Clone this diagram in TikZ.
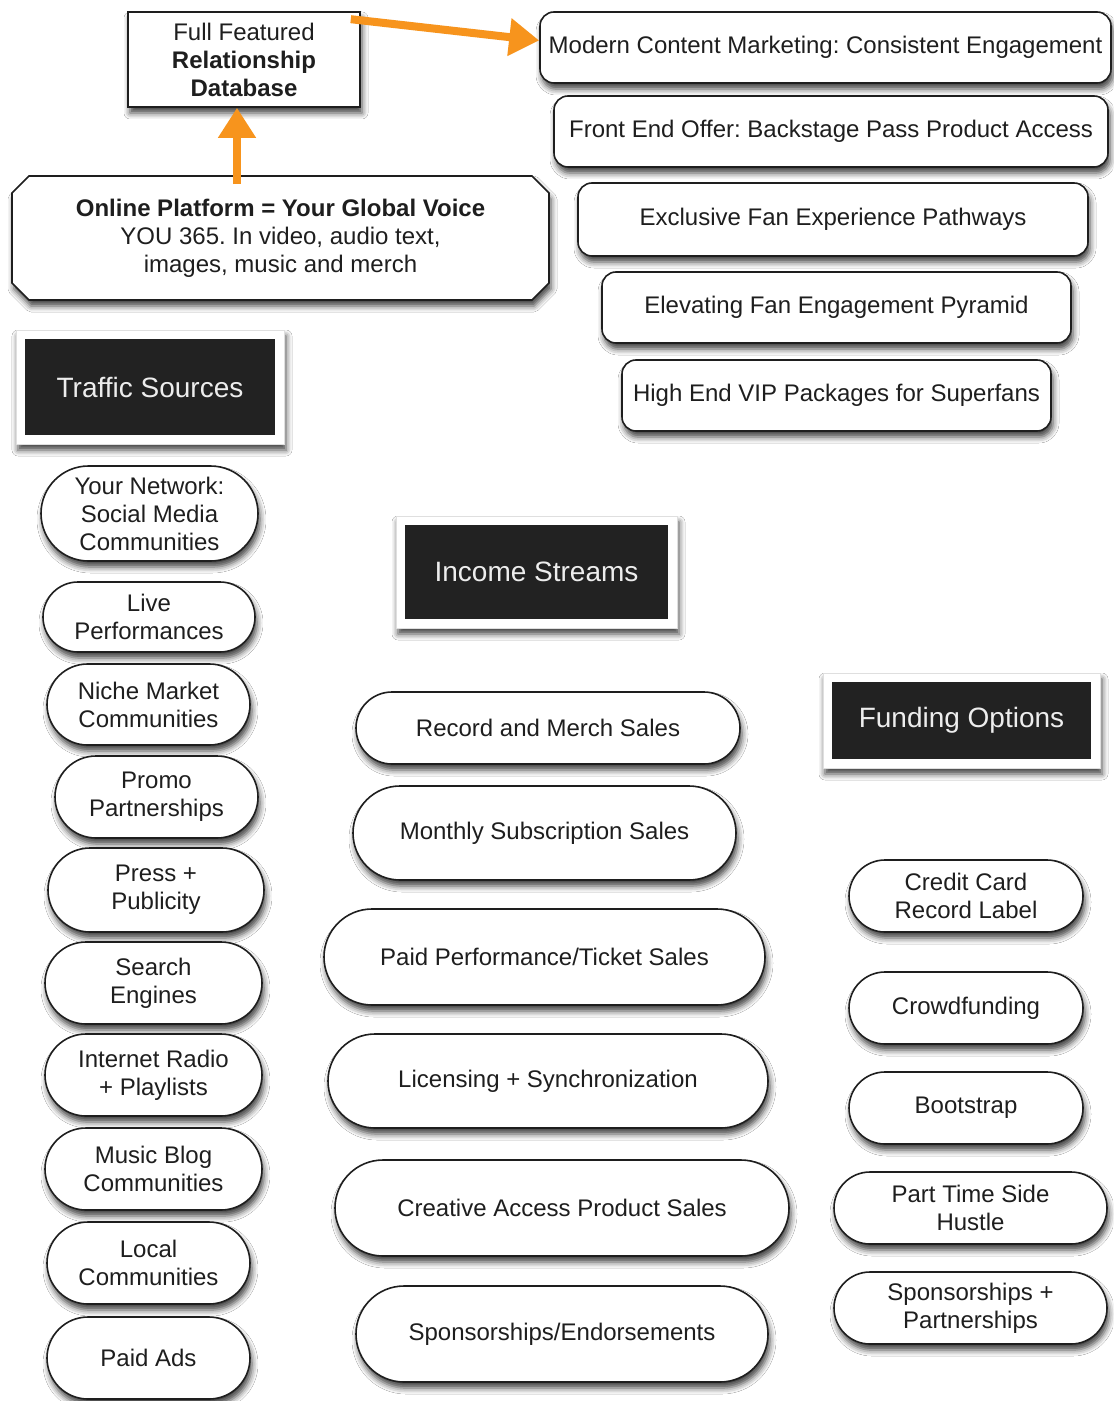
\documentclass[tikz,border=0pt]{standalone}
\usepackage{fontspec}
\setmainfont{Liberation Sans}
\frenchspacing
\usetikzlibrary{arrows.meta, positioning, shapes.misc, shadows.blur}
\definecolor{inkgray}{HTML}{1E1E1E}
\definecolor{headdark}{HTML}{222222}
\definecolor{feedorange}{HTML}{F7941D}
\tikzset{
  base/.style = {
    draw=inkgray, line width=0.8pt, fill=white, text=inkgray, align=center,
    font=\fontsize{12}{14}\selectfont, inner sep=2pt,
    blur shadow={shadow xshift=1pt, shadow yshift=-3pt, shadow blur radius=3pt, shadow opacity=75}
  },
  dbbox/.style = {base, rectangle},
  platbox/.style = {base, chamfered rectangle, chamfered rectangle xsep=5pt},
  card/.style = {base, rounded corners=7pt},
  pill/.style = {base, rounded rectangle},
  header/.style = {
    base, draw=gray!25, line width=0.4pt, text=white!93!black,
    font=\fontsize{14}{16}\selectfont,
    path picture={\fill[headdark] ([shift={(4.5pt,4.5pt)}]path picture bounding box.south west)
      rectangle ([shift={(-4.5pt,-4.5pt)}]path picture bounding box.north east);}
  },
  feed/.style = {-{Triangle[length=15pt, width=18pt]}, line width=4pt, draw=feedorange},
}

\begin{document}
\begin{tikzpicture}[x=0.5pt, y=-0.5pt]
    \path[use as bounding box, fill=white] (0,0) rectangle (1113,1401);

    % Database and online platform
    \node[dbbox, minimum width=116pt, minimum height=47.5pt] (db) at (244,59.5)
      {Full Featured\\\textbf{Relationship}\\\textbf{Database}};
    \node[platbox, minimum width=268.5pt, minimum height=62pt] (platform) at (280.5,238)
      {\textbf{Online Platform = Your Global Voice}\\YOU 365. In video, audio text,\\images, music and merch};

    % Engagement ladder, top right
    \node[card, minimum width=285.5pt, minimum height=35.5pt] (content) at (825.5,47.5)
      {Modern Content Marketing: Consistent Engagement};
    \node[card, minimum width=277pt, minimum height=35.5pt] (frontend) at (831,131.5)
      {Front End Offer: Backstage Pass Product Access};
    \node[card, minimum width=255pt, minimum height=36.5pt] (pathways) at (833,219.5)
      {Exclusive Fan Experience Pathways};
    \node[card, minimum width=234.5pt, minimum height=35.5pt] (pyramid) at (836.5,307.5)
      {Elevating Fan Engagement Pyramid};
    \node[card, minimum width=214.5pt, minimum height=35.5pt] (vip) at (836.5,395.5)
      {High End VIP Packages for Superfans};

    % Column headers
    \node[header, minimum width=134pt, minimum height=57pt] (traffic) at (150,387) {Traffic Sources};
    \node[header, minimum width=140.5pt, minimum height=56pt] (income) at (536.5,572) {Income Streams};
    \node[header, minimum width=138.5pt, minimum height=47.5pt] (funding) at (961.5,720.5) {Funding Options};

    % Traffic sources
    \node[pill, minimum width=112.5pt, minimum height=47.5pt] (network) at (149.5,513.5) {Your Network:\\Social Media\\Communities};
    \node[pill, minimum width=110pt, minimum height=35pt] (live) at (149,617) {Live\\Performances};
    \node[pill, minimum width=105.5pt, minimum height=40.5pt] (niche) at (148.5,704.5) {Niche Market\\Communities};
    \node[pill, minimum width=105.5pt, minimum height=41pt] (promo) at (156.5,797) {Promo\\Partnerships};
    \node[pill, minimum width=112pt, minimum height=42pt] (press) at (156,890) {Press +\\Publicity};
    \node[pill, minimum width=112.5pt, minimum height=41pt] (search) at (153.5,983) {Search\\Engines};
    \node[pill, minimum width=112.5pt, minimum height=41pt] (radio) at (153.5,1075) {Internet Radio\\+ Playlists};
    \node[pill, minimum width=112.5pt, minimum height=41pt] (blog) at (153.5,1169) {Music Blog\\Communities};
    \node[pill, minimum width=105.5pt, minimum height=41pt] (local) at (148.5,1263) {Local\\Communities};
    \node[pill, minimum width=105.5pt, minimum height=41pt] (ads) at (148.5,1358) {Paid Ads};

    % Income streams
    \node[pill, minimum width=196pt, minimum height=36pt] (merch) at (548,728) {Record and Merch Sales};
    \node[pill, minimum width=195.5pt, minimum height=47pt] (subs) at (544.5,833) {Monthly Subscription Sales};
    \node[pill, minimum width=224.5pt, minimum height=48pt] (tickets) at (544.5,957) {Paid Performance/Ticket Sales};
    \node[pill, minimum width=224pt, minimum height=47pt] (sync) at (548,1081) {Licensing + Synchronization};
    \node[pill, minimum width=231pt, minimum height=48pt] (access) at (562,1208) {Creative Access Product Sales};
    \node[pill, minimum width=210pt, minimum height=48pt] (endorse) at (562,1334) {Sponsorships/Endorsements};

    % Funding options
    \node[pill, minimum width=121pt, minimum height=36pt] (label) at (966,896) {Credit Card\\Record Label};
    \node[pill, minimum width=121pt, minimum height=36pt] (crowd) at (966,1008) {Crowdfunding};
    \node[pill, minimum width=121pt, minimum height=36pt] (boot) at (966,1108) {Bootstrap};
    \node[pill, minimum width=140.5pt, minimum height=36pt] (hustle) at (970.5,1208) {Part Time Side\\Hustle};
    \node[pill, minimum width=140.5pt, minimum height=36pt] (sponsor) at (970.5,1308) {Sponsorships +\\Partnerships};

    % Orange feeds
    \draw[feed] ([shift={(-3.5pt,-4.5pt)}]db.south |- platform.north) -- ([xshift=-3.5pt]db.south);
    \draw[feed] ([shift={(-5pt,-4pt)}]db.north east) -- ([yshift=3.5pt]content.west);

  \end{tikzpicture}
\end{document}
